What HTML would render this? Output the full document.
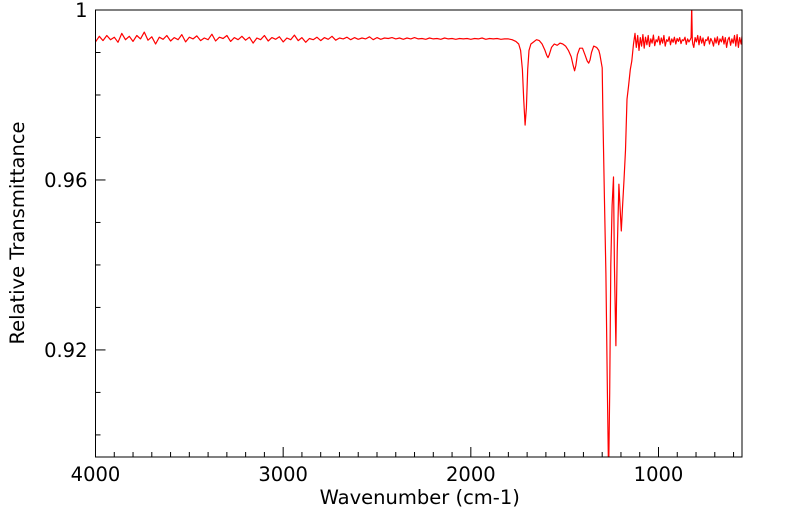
<!DOCTYPE html>
<html><head><meta charset="utf-8"><style>
body{margin:0;background:#fff;}
svg{display:block;font-family:"DejaVu Sans","Liberation Sans",sans-serif;}
</style></head><body>
<svg id="chart" width="799" height="516"></svg>
<script>
const xTicks=[4000,3000,2000,1000];
const yTicks=[0.92,0.96,1];
const wavenumbersLeft=[
4000,3980,3960,3940,3920,3900,3880,3860,3840,3820,
3800,3780,3760,3740,3720,3700,3680,3660,3640,3620,
3600,3580,3560,3540,3520,3500,3480,3460,3440,3420,
3400,3380,3360,3340,3320,3300,3280,3260,3240,3220,
3200,3180,3160,3140,3120,3100,3080,3060,3040,3020,
3000,2980,2960,2940,2920,2900,2880,2860,2840,2820,
2800,2780,2760,2740,2720,2700,2680,2660,2640,2620,
2600,2580,2560,2540,2520,2500,2480,2460,2440,2420,
2400,2380,2360,2340,2320,2300,2280,2260,2240,2220,
2200,2180,2160,2140,2120,2100,2080,2060,2040,2020,
2000,1980,1960,1940,1920,1900,1880,1860,1840,1820];
const transmittanceLeft=[
0.9925,0.9938,0.9928,0.9940,0.9930,0.9936,0.9924,0.9945,0.9930,0.9938,
0.9926,0.9940,0.9932,0.9948,0.9929,0.9937,0.9920,0.9936,0.9931,0.9940,
0.9927,0.9935,0.9930,0.9942,0.9925,0.9936,0.9932,0.9939,0.9928,0.9934,
0.9930,0.9943,0.9927,0.9936,0.9933,0.9940,0.9926,0.9935,0.9930,0.9938,
0.9929,0.9936,0.9922,0.9934,0.9930,0.9940,0.9927,0.9935,0.9931,0.9937,
0.9925,0.9934,0.9930,0.9941,0.9928,0.9935,0.9924,0.9933,0.9930,0.9936,
0.9928,0.9935,0.9931,0.9938,0.9929,0.9934,0.9932,0.9936,0.9930,0.9935,
0.9931,0.9934,0.9932,0.9937,0.9930,0.9935,0.9931,0.9934,0.9933,0.9935,
0.9932,0.9934,0.9931,0.9934,0.9932,0.9935,0.9932,0.9933,0.9931,0.9934,
0.9932,0.9933,0.9931,0.9934,0.9932,0.9933,0.9931,0.9933,0.9932,0.9933,
0.9931,0.9933,0.9932,0.9934,0.9931,0.9933,0.9932,0.9933,0.9931,0.9932];
const wavenumbersMid=[
1800,1780,1760,1745,1735,1725,1718,1711,1704,1697,
1690,1680,1665,1650,1635,1620,1605,1595,1589,1582,
1570,1555,1540,1525,1510,1495,1480,1465,1455,1447,
1440,1432,1420,1405,1392,1380,1372,1365,1357,1345,
1330,1318,1312,1300,1296,1288,1280,1272,1266,1260,
1254,1247,1240,1235,1227,1220,1211,1203,1198,1191,
1184,1176,1168,1160,1150,1142,1133];
const transmittanceMid=[
0.9932,0.9930,0.9926,0.9920,0.9905,0.9860,0.9790,0.9729,0.9770,0.9860,
0.9905,0.9920,0.9925,0.9930,0.9928,0.9920,0.9905,0.9893,0.9888,0.9895,
0.9912,0.9920,0.9917,0.9922,0.9920,0.9915,0.9905,0.9890,0.9870,0.9857,
0.9870,0.9895,0.9910,0.9910,0.9895,0.9880,0.9875,0.9882,0.9900,0.9915,
0.9912,0.9905,0.9895,0.9864,0.9753,0.9560,0.9380,0.9100,0.8900,0.9100,
0.9400,0.9540,0.9607,0.9400,0.9210,0.9430,0.9590,0.9520,0.9480,0.9540,
0.9600,0.9670,0.9790,0.9820,0.9860,0.9880,0.9920];
const wavenumbersRight=[
1125,1118,1111,1104,1097,1090,1083,1076,1069,1062,
1055,1048,1041,1034,1027,1020,1013,1006,999,992,
985,978,971,964,957,950,943,936,929,922,
915,908,901,894,887,880,873,866,859,852,
845,838,831,826,823,820,817,812,805,798,
791,784,777,770,763,756,749,742,735,728,
721,714,707,700,693,686,679,672,665,658,
651,644,637,630,623,616,609,602,595,588,
581,574,567,560,555];
const transmittanceRight=[
0.9945,0.9912,0.9940,0.9905,0.9935,0.9915,0.9942,0.9910,0.9936,0.9918,
0.9940,0.9914,0.9932,0.9922,0.9941,0.9916,0.9930,0.9925,0.9938,0.9918,
0.9934,0.9922,0.9940,0.9915,0.9930,0.9926,0.9937,0.9918,0.9932,0.9924,
0.9936,0.9920,0.9933,0.9926,0.9935,0.9921,0.9930,0.9928,0.9936,0.9919,
0.9932,0.9925,0.9930,0.9935,1.0010,0.9930,0.9920,0.9912,0.9935,0.9925,
0.9940,0.9918,0.9938,0.9922,0.9934,0.9916,0.9930,0.9928,0.9937,0.9920,
0.9933,0.9926,0.9915,0.9934,0.9922,0.9937,0.9918,0.9932,0.9925,0.9938,
0.9920,0.9935,0.9912,0.9930,0.9936,0.9917,0.9932,0.9922,0.9940,0.9915,
0.9942,0.9912,0.9935,0.9920,0.9938];
const wavenumbers=wavenumbersLeft.concat(wavenumbersMid,wavenumbersRight);
const transmittance=transmittanceLeft.concat(transmittanceMid,transmittanceRight);
const X0=95.5,X1=742,Y0=10,Y1=457;
const wMax=4000,wMin=555,tMin=0.8948,tMax=1;
const xs=w=>X0+(wMax-w)/(wMax-wMin)*(X1-X0);
const ys=t=>Y0+(tMax-t)/(tMax-tMin)*(Y1-Y0);
const svg=document.getElementById('chart');
const NS='http://www.w3.org/2000/svg';
function mk(tag,attrs){const e=document.createElementNS(NS,tag);for(const k in attrs)e.setAttribute(k,attrs[k]);svg.appendChild(e);return e;}
const clip=document.createElementNS(NS,'clipPath');clip.setAttribute('id','pc');
const cr=document.createElementNS(NS,'rect');cr.setAttribute('x',X0);cr.setAttribute('y',Y0);cr.setAttribute('width',X1-X0);cr.setAttribute('height',Y1-Y0);clip.appendChild(cr);svg.appendChild(clip);
let d='';
const n=Math.min(wavenumbers.length,transmittance.length);
for(let i=0;i<n;i++){d+=(i?'L':'M')+xs(wavenumbers[i]).toFixed(1)+' '+ys(transmittance[i]).toFixed(1);}
const line=mk('path',{d:d,fill:'none',stroke:'#ff0000','stroke-width':1.2,'stroke-linejoin':'round','clip-path':'url(#pc)'});


const frame=mk('rect',{x:X0,y:Y0,width:X1-X0,height:Y1-Y0,fill:'none',stroke:'#000','stroke-width':1});


for(let w=3900;w>wMin;w-=100){const x=xs(w);const major=w%1000===0;
 const t=mk('line',{x1:x,x2:x,y1:Y1,y2:Y1-(major?10:5),stroke:'#000','stroke-width':1});
 
 }
xTicks.forEach(w=>{const tx=mk('text',{x:xs(w),y:Y1+24,'text-anchor':'middle','font-size':19.5});tx.textContent=w;
 
 });
for(let k=0;k<=10;k++){const t=Math.round((1-k*0.01)*100)/100;if(t<tMin)break;const y=ys(t);const major=yTicks.includes(t);
 const l=mk('line',{x1:X0,x2:X0+(major?10:5),y1:y,y2:y,stroke:'#000','stroke-width':1});
 
 }
yTicks.forEach(t=>{const tx=mk('text',{x:X0-8,y:ys(t)+7,'text-anchor':'end','font-size':19.5});tx.textContent=t;
 
 });
const xt=mk('text',{x:(X0+X1)/2+1,y:504,'text-anchor':'middle','font-size':19.5});xt.textContent='Wavenumber (cm-1)';


const yt=mk('text',{x:0,y:0,'text-anchor':'middle','font-size':19.5,transform:'translate(24,233) rotate(-90)'});yt.textContent='Relative Transmittance';


</script>
</body></html>
